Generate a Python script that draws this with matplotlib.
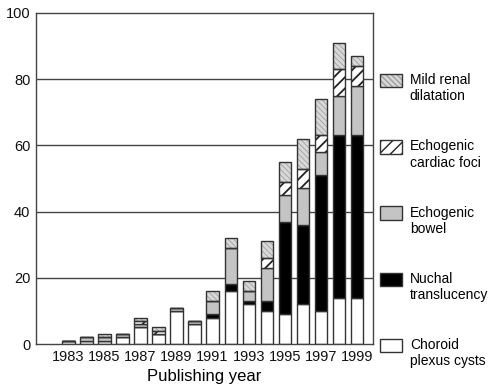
import numpy as np
import matplotlib
matplotlib.use("Agg")
import matplotlib.pyplot as plt
from matplotlib.patches import Patch, Rectangle
from matplotlib.legend_handler import HandlerPatch, HandlerTuple

years = np.arange(1983, 2000)
choroid = [1, 1, 1, 2, 5, 3, 10, 6, 8, 16, 12, 10, 9, 12, 10, 14, 14]
nuchal = [0, 0, 0, 0, 0, 0, 0, 0, 1, 2, 1, 3, 28, 24, 41, 49, 49]
bowel = [0, 1, 1, 1, 1, 0, 1, 1, 4, 11, 3, 10, 8, 11, 7, 12, 15]
cardiac = [0, 0, 0, 0, 1, 1, 0, 0, 0, 0, 0, 3, 4, 6, 5, 8, 6]
renal = [0, 0, 1, 0, 1, 1, 0, 0, 3, 3, 3, 5, 6, 9, 11, 8, 3]
xtick_years = list(range(1983, 2000, 2))

plt.rcParams["font.family"] = ["Liberation Sans", "DejaVu Sans"]
EDGE = "#333333"

# (values, label, face, hatch, hatch colour, hatch lw)
series = [
    (choroid, "Choroid\nplexus cysts", "white", None, None, 1.0),
    (nuchal, "Nuchal\ntranslucency", "black", None, None, 1.0),
    (bowel, "Echogenic\nbowel", "#c4c4c4", None, None, 1.0),
    (cardiac, "Echogenic\ncardiac foci", "white", "///", "#222222", 1.3),
    (renal, "Mild renal\ndilatation", "#d8d8d8", "\\\\\\\\\\\\", "#a0a0a0", 0.6),
]

fig = plt.figure(figsize=(4.88, 3.85), dpi=100)
ax = fig.add_axes([36 / 488, 1 - 344 / 385, 337 / 488, 331 / 385])

for y in (20, 40, 60, 80):
    ax.axhline(y, color="#444444", lw=1.0, zorder=0)

width = 0.68
bottom = np.zeros(len(years))
handles = []
for vals, label, face, hatch, hcol, hlw in series:
    vals = np.array(vals, dtype=float)
    if hatch:
        with plt.rc_context({"hatch.linewidth": hlw}):
            ax.bar(years, vals, width, bottom=bottom, color=face, hatch=hatch,
                   edgecolor=hcol, linewidth=0, zorder=2)
            hp = Patch(facecolor=face, hatch=hatch, edgecolor=hcol, linewidth=0)
        ax.bar(years, vals, width, bottom=bottom, fill=False,
               edgecolor=EDGE, linewidth=1.0, zorder=3)
        handles.append(((hp, Patch(fill=False, edgecolor=EDGE, linewidth=1.0)), label))
    else:
        ax.bar(years, vals, width, bottom=bottom, color=face,
               edgecolor=EDGE, linewidth=1.0, zorder=2)
        handles.append((Patch(facecolor=face, edgecolor=EDGE, linewidth=1.0), label))
    bottom += vals

ax.set_xlim(1981.2, 1999.9)
ax.set_ylim(0, 100)
ax.set_yticks([0, 20, 40, 60, 80, 100])
ax.set_xticks(xtick_years)
ax.tick_params(length=0, labelsize=10.5, colors="#111111", pad=4)
ax.set_xlabel("Publishing year", fontsize=12, labelpad=4)
for s in ax.spines.values():
    s.set_color("#444444")
    s.set_linewidth(1.0)


def shifted(legend, orig_handle, xdescent, ydescent, width, height, fontsize):
    return Rectangle((-xdescent, -ydescent + 0.6 * fontsize), width, height)


handles = handles[::-1]
leg = fig.legend([h for h, _ in handles], [l for _, l in handles],
                 loc="upper left", bbox_to_anchor=(380 / 488, 1 - 73 / 385),
                 frameon=False, fontsize=10, labelspacing=2.6,
                 handlelength=1.6, handleheight=1.1, handletextpad=0.55,
                 borderpad=0, borderaxespad=0,
                 handler_map={Patch: HandlerPatch(patch_func=shifted),
                              tuple: HandlerTuple(ndivide=1, pad=0)})

fig.savefig("out.png", dpi=100)
